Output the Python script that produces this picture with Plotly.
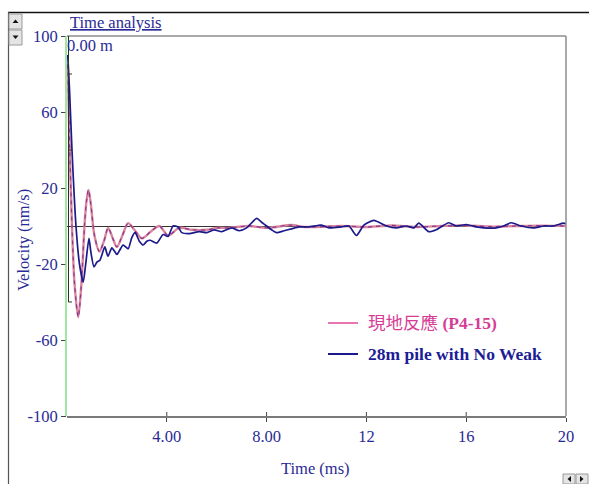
import plotly.graph_objects as go

# Field response (P4-15)
t_field = [0.03, 0.1, 0.2, 0.3, 0.45, 0.58, 0.7, 0.78, 0.86, 0.95, 1.1, 1.3, 1.48, 1.65, 1.82, 2.0,
           2.22, 2.45, 2.7, 3.0, 3.35, 3.7, 4.05, 4.5, 5.0, 5.6, 6.0, 6.5, 7.3, 8.0, 9.0, 9.5, 10.0,
           11.0, 12.0, 13.0, 14.0, 15.0, 16.0, 17.0, 18.0, 19.0, 20.0]
v_field = [85, 45, 0, -30, -48, -30, 0, 13, 19, 12, -5, -13.5, -8, -1, -6, -11,
           -5, 1.5, -2, -6.5, -3, 0, -5, -1, -2, -2, -1, -1, 0, -1, 0.5, -0.5, -0.5,
           0, -0.5, 0.3, -0.5, 0, 0.3, -0.3, 0, 0.2, 0]

# 28m pile with No Weak
t_model = [0.03, 0.1, 0.2, 0.36, 0.5, 0.65, 0.75, 0.88, 0.96, 1.08, 1.2, 1.32, 1.45, 1.52, 1.64, 1.8,
           2.0, 2.1, 2.25, 2.45, 2.6, 2.73, 2.9, 3.05, 3.2, 3.33, 3.6, 3.85, 4.05, 4.25, 4.45, 4.6,
           4.9, 5.3, 5.6, 5.9, 6.2, 6.6, 6.9, 7.2, 7.6, 7.8, 8.0, 8.2, 8.4, 8.7, 9.0, 9.3, 9.7,
           10.2, 10.5, 11.0, 11.3, 11.6, 11.9, 12.3, 12.8, 13.2, 13.6, 13.9, 14.1, 14.5, 14.8,
           15.3, 15.6, 16.0, 16.4, 16.7, 17.2, 17.5, 17.8, 18.2, 18.7, 19.1, 19.5, 19.9, 20.0]
v_model = [90, 72, 40, 0, -20, -29.5, -20, -6.5, -14, -21.5, -19, -18, -13, -11, -16, -11.5,
           -15, -13, -10, -12, -6, -3.5, -8, -10, -8, -7.5, -9, -4.5, -5.5, 0, -0.5, -3.5,
           -4, -3, -3.5, -2, -3, -1, -2.5, -1, 4, 2, 0, -2, -3.5, -2.5, -1.5, -0.5, -0.5,
           0.5, -1, -0.5, 0, -5, 0.5, 3, 0, -1, 0, -1, 1.5, -3, -2,
           1.7, 0, 0.8, -0.5, -1, -1, 0, 1.7, 0, -1, 0, 0, 1.5, 1.2]

x_tickvals = [4, 8, 12, 16, 20]
x_ticktext = ["4.00", "8.00", "12", "16", "20"]
y_tickvals = [100, 60, 20, -20, -60, -100]
y_ticktext = ["100", "60", "20", "-20", "-60", "-100"]

NAVY = "#2a2a96"
FONT = "Liberation Serif"
PINK = "#db86a0"
PURPLE = "#8a3a88"
BLUE = "#1a1a8a"

fig = go.Figure()
fig.add_trace(go.Scatter(x=t_field, y=v_field, mode="lines", line=dict(color=PINK, width=2.4, shape="spline", smoothing=0.8),
                         hoverinfo="skip", showlegend=False))
fig.add_trace(go.Scatter(x=t_field, y=v_field, mode="lines", line=dict(color=PURPLE, width=1.2, dash="4px,4px", shape="spline", smoothing=0.8),
                         hoverinfo="skip", showlegend=False))
fig.add_trace(go.Scatter(x=t_model, y=v_model, mode="lines", line=dict(color=BLUE, width=1.7, shape="spline", smoothing=0.6),
                         hoverinfo="skip", showlegend=False))

W, H = 589, 484
L, R, T, B = 67, 566, 36, 416


def px(xp):
    return (xp - L) / (R - L)


def py(yp):
    return (B - yp) / (B - T)


shapes = []
# plot frame: top and right grey, left green
shapes.append(dict(type="line", xref="paper", yref="paper", x0=0, x1=1, y0=1, y1=1, line=dict(color="#8c8c8c", width=1.5)))
shapes.append(dict(type="line", xref="paper", yref="paper", x0=1, x1=1, y0=0, y1=1, line=dict(color="#8c8c8c", width=1.5)))
shapes.append(dict(type="line", xref="paper", yref="paper", x0=-0.002, x1=-0.002, y0=0, y1=1, line=dict(color="#80e080", width=1.5)))
# dark cursor line at t=0
shapes.append(dict(type="line", xref="x", yref="y", x0=0.06, x1=0.06, y0=-40, y1=100, line=dict(color="#303030", width=1)))
for yv in [80, 40, -40]:
    shapes.append(dict(type="line", xref="x", yref="y", x0=0.06, x1=0.2, y0=yv, y1=yv, line=dict(color="#303030", width=1)))
# small cross ticks on the x axis (upper part)
for xv in x_tickvals[:-1]:
    shapes.append(dict(type="line", xref="x", yref="paper", x0=xv, x1=xv, y0=0, y1=4 / (B - T), line=dict(color="#444444", width=1)))
# outer window frame
shapes.append(dict(type="line", xref="paper", yref="paper", x0=px(8), x1=px(589), y0=py(12.5), y1=py(12.5), line=dict(color="#111111", width=1.5)))
shapes.append(dict(type="line", xref="paper", yref="paper", x0=px(8.5), x1=px(8.5), y0=py(12), y1=py(484), line=dict(color="#555555", width=1.2)))
# scroll buttons top-left
for (y0, y1) in [(14, 29), (30, 45)]:
    shapes.append(dict(type="rect", xref="paper", yref="paper", x0=px(9), x1=px(22), y0=py(y1), y1=py(y0),
                       line=dict(color="#9a9a9a", width=1), fillcolor="#e4e4e4"))
shapes.append(dict(type="path", xref="paper", yref="paper",
                   path=f"M {px(12.5)} {py(23)} L {px(18.5)} {py(23)} L {px(15.5)} {py(19.5)} Z", fillcolor="#111111", line=dict(width=0)))
shapes.append(dict(type="path", xref="paper", yref="paper",
                   path=f"M {px(12.5)} {py(35.5)} L {px(18.5)} {py(35.5)} L {px(15.5)} {py(39)} Z", fillcolor="#111111", line=dict(width=0)))
# scroll buttons bottom-right
for (x0, x1) in [(563, 575), (576, 588)]:
    shapes.append(dict(type="rect", xref="paper", yref="paper", x0=px(x0), x1=px(x1), y0=py(484), y1=py(474),
                       line=dict(color="#9a9a9a", width=1), fillcolor="#e4e4e4"))
shapes.append(dict(type="path", xref="paper", yref="paper",
                   path=f"M {px(571)} {py(476)} L {px(571)} {py(482)} L {px(567.5)} {py(479)} Z", fillcolor="#111111", line=dict(width=0)))
shapes.append(dict(type="path", xref="paper", yref="paper",
                   path=f"M {px(580)} {py(476)} L {px(580)} {py(482)} L {px(583.5)} {py(479)} Z", fillcolor="#111111", line=dict(width=0)))
# legend samples
shapes.append(dict(type="line", xref="paper", yref="paper", x0=px(328), x1=px(358), y0=py(323), y1=py(323), line=dict(color="#e0489c", width=1.5)))
shapes.append(dict(type="line", xref="paper", yref="paper", x0=px(328), x1=px(358), y0=py(354), y1=py(354), line=dict(color=BLUE, width=2)))

annotations = [
    dict(text="<u>Time analysis</u>", xref="paper", yref="paper", x=px(68), y=py(22), xanchor="left", yanchor="middle",
         showarrow=False, font=dict(family=FONT, size=16.5, color=NAVY)),
    dict(text="0.00 m", xref="paper", yref="paper", x=px(65), y=py(46), xanchor="left", yanchor="middle",
         showarrow=False, font=dict(family=FONT, size=16.5, color=NAVY)),
    dict(text="Velocity (nm/s)", xref="paper", yref="paper", x=px(23), y=py(240), xanchor="center", yanchor="middle",
         textangle=-90, showarrow=False, font=dict(family=FONT, size=16.5, color=NAVY)),
    dict(text="Time (ms)", xref="paper", yref="paper", x=px(315), y=py(468), xanchor="center", yanchor="middle",
         showarrow=False, font=dict(family=FONT, size=16.5, color=NAVY)),
    dict(text="現地反應 <b>(P4-15)</b>", xref="paper", yref="paper", x=px(366), y=py(323), xanchor="left", yanchor="middle",
         showarrow=False, font=dict(family=FONT + ", Noto Sans CJK TC", size=17.5, color="#d63c96")),
    dict(text="<b>28m pile with No Weak</b>", xref="paper", yref="paper", x=px(366), y=py(354), xanchor="left", yanchor="middle",
         showarrow=False, font=dict(family=FONT, size=17.5, color="#1c1c96")),
]

fig.update_layout(
    width=W, height=H,
    margin=dict(l=L, r=W - R, t=T, b=H - B, pad=0),
    paper_bgcolor="white", plot_bgcolor="white",
    showlegend=False,
    shapes=shapes, annotations=annotations,
    xaxis=dict(range=[0, 20], tickvals=x_tickvals, ticktext=x_ticktext, showgrid=False, zeroline=False,
               showline=True, linecolor="#7a7a7a", linewidth=1.5, ticks="outside", ticklen=4, tickcolor="#444444",
               tickfont=dict(family=FONT, size=16.5, color=NAVY), fixedrange=True),
    yaxis=dict(range=[-100, 100], tickvals=y_tickvals, ticktext=y_ticktext, showgrid=False,
               zeroline=True, zerolinecolor="#333333", zerolinewidth=1,
               showline=False, ticks="outside", ticklen=5, tickcolor="#444444",
               tickfont=dict(family=FONT, size=16.5, color=NAVY), fixedrange=True),
)

fig.write_html("out.html", config={"displayModeBar": False},
               post_script="document.body.style.margin='0px';document.body.style.overflow='hidden';")
